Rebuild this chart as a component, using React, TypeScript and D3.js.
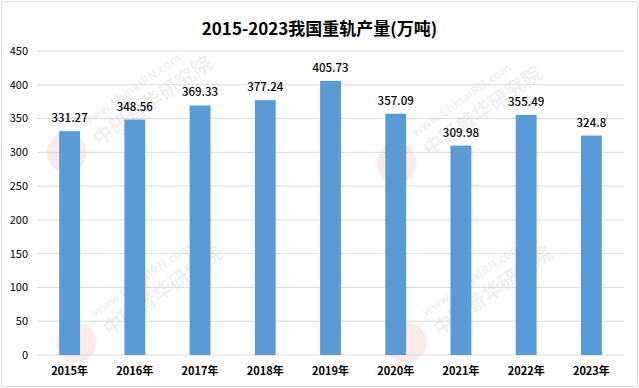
import * as d3 from "d3";

const W = 639;
const H = 388;
const MARGIN = { top: 51, right: 15, bottom: 33, left: 37 };

const years = ["2015年", "2016年", "2017年", "2018年", "2019年", "2020年", "2021年", "2022年", "2023年"];
const output = [331.27, 348.56, 369.33, 377.24, 405.73, 357.09, 309.98, 355.49, 324.8];
const yTicks = [0, 50, 100, 150, 200, 250, 300, 350, 400, 450];

// faint watermark spots (decorative)
const marks = [
  { x: 110, y: 110 },
  { x: 440, y: 120 },
  { x: 120, y: 300 },
  { x: 450, y: 300 },
];

const FONT = "'Noto Sans CJK SC', 'Liberation Sans', sans-serif";

export default function App() {
  const innerW = W - MARGIN.left - MARGIN.right;
  const innerH = H - MARGIN.top - MARGIN.bottom;

  const x = d3.scaleBand<string>().domain(years).range([0, innerW]).paddingInner(0.68).paddingOuter(0.34);
  const y = d3.scaleLinear().domain([0, 450]).range([innerH, 0]);

  return (
    <svg
      width={W}
      height={H}
      style={{ position: "absolute", left: 0, top: 0, background: "#fff" }}
      fontFamily={FONT}
    >
      <rect x={1.5} y={1.5} width={W - 3} height={H - 3} rx={3} fill="#fff" stroke="#d9d9d9" />

      {/* watermarks */}
      {marks.map((m, i) => (
        <g key={i} transform={`translate(${m.x},${m.y}) rotate(-35)`} opacity={0.12}>
          <circle cx={-60} cy={10} r={20} fill="#e0584a" />
          <text x={-30} y={0} fontSize={12} fill="#888" fontWeight="bold">www.ChinaIRN.com</text>
          <text x={-30} y={24} fontSize={20} fill="#888" fontWeight="bold">中研普华研究院</text>
        </g>
      ))}

      <text x={W / 2} y={35} textAnchor="middle" fontSize={17} fontWeight="bold" fill="#000">
        2015-2023我国重轨产量(万吨)
      </text>

      <g transform={`translate(${MARGIN.left},${MARGIN.top})`}>
        {yTicks.map((t) => (
          <g key={t} transform={`translate(0,${y(t)})`}>
            <line x1={0} x2={innerW} stroke="#d9d9d9" strokeWidth={1} />
            <text x={-9} dy="0.35em" textAnchor="end" fontSize={11} fill="#000">
              {t}
            </text>
          </g>
        ))}

        {years.map((yr, i) => (
          <g key={yr}>
            <rect
              x={x(yr)}
              y={y(output[i])}
              width={x.bandwidth()}
              height={innerH - y(output[i])}
              fill="#5b9bd5"
            />
            <text
              x={(x(yr) ?? 0) + x.bandwidth() / 2}
              y={y(output[i]) - 9}
              textAnchor="middle"
              fontSize={11.5}
              fontWeight={500}
              fill="#000"
            >
              {output[i]}
            </text>
            <text
              x={(x(yr) ?? 0) + x.bandwidth() / 2}
              y={innerH + 20}
              textAnchor="middle"
              fontSize={11}
              fontWeight="bold"
              fill="#000"
            >
              {yr}
            </text>
          </g>
        ))}
      </g>
    </svg>
  );
}
